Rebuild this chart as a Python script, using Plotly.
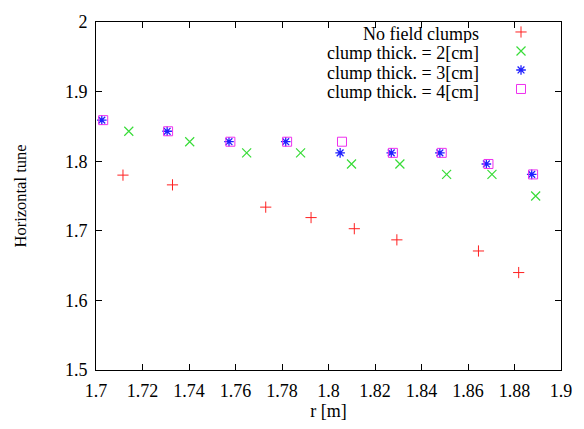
import plotly.graph_objects as go

# ---- data ----
r_none = [1.7116, 1.7329, 1.7730, 1.7925, 1.8111, 1.8294, 1.8645, 1.8818]
q_none = [1.780, 1.766, 1.734, 1.719, 1.703, 1.687, 1.671, 1.640]

r_2cm = [1.7141, 1.7403, 1.7648, 1.7880, 1.8099, 1.8307, 1.8508, 1.8703, 1.8891]
q_2cm = [1.843, 1.828, 1.812, 1.812, 1.796, 1.796, 1.781, 1.781, 1.750]

r_3cm = [1.7025, 1.7306, 1.7572, 1.7816, 1.8050, 1.8270, 1.8479, 1.8679, 1.8874]
q_3cm = [1.859, 1.843, 1.828, 1.828, 1.812, 1.812, 1.812, 1.796, 1.781]

r_4cm = [1.7031, 1.7310, 1.7578, 1.7822, 1.8058, 1.8277, 1.8487, 1.8688, 1.8880]
q_4cm = [1.859, 1.843, 1.828, 1.828, 1.828, 1.812, 1.812, 1.796, 1.781]

labels = ["No field clumps", "clump thick. = 2[cm]",
          "clump thick. = 3[cm]", "clump thick. = 4[cm]"]

x_ticks = [1.7, 1.72, 1.74, 1.76, 1.78, 1.8, 1.82, 1.84, 1.86, 1.88, 1.9]
x_ticktext = ["1.7", "1.72", "1.74", "1.76", "1.78", "1.8", "1.82", "1.84", "1.86", "1.88", "1.9"]
y_ticks = [1.5, 1.6, 1.7, 1.8, 1.9, 2.0]
y_ticktext = ["1.5", "1.6", "1.7", "1.8", "1.9", "2"]

FONT = "Liberation Serif"

fig = go.Figure()
fig.add_trace(go.Scatter(x=r_none, y=q_none, mode="markers", name=labels[0],
                         marker=dict(symbol="cross-thin", size=8, color="#ff2020",
                                     line=dict(width=1, color="#ff2020"))))
fig.add_trace(go.Scatter(x=r_2cm, y=q_2cm, mode="markers", name=labels[1],
                         marker=dict(symbol="x-thin", size=9, color="#38dc38",
                                     line=dict(width=1.2, color="#38dc38"))))
fig.add_trace(go.Scatter(x=r_3cm, y=q_3cm, mode="markers", name=labels[2],
                         marker=dict(symbol="asterisk-open", size=8, color="#2020ff",
                                     line=dict(width=1.3, color="#2020ff"))))
fig.add_trace(go.Scatter(x=r_4cm, y=q_4cm, mode="markers", name=labels[3],
                         marker=dict(symbol="square-open", size=9, color="#ee30ee",
                                     line=dict(width=1, color="#ee30ee"))))

axis_common = dict(showline=True, linecolor="black", linewidth=1, mirror="ticks",
                   ticks="inside", ticklen=6, tickcolor="black", showgrid=False,
                   zeroline=False, ticklabelstandoff=4,
                   tickfont=dict(family=FONT, size=18, color="black"))

fig.update_xaxes(range=[1.7, 1.9], tickvals=x_ticks, ticktext=x_ticktext,
                 title=dict(text="r [m]", font=dict(family=FONT, size=18, color="black"),
                            standoff=4),
                 **axis_common)
fig.update_yaxes(range=[1.5, 2.0], tickvals=y_ticks, ticktext=y_ticktext,
                 title=dict(text="Horizontal tune", font=dict(family=FONT, size=16.5, color="black"),
                            standoff=34),
                 **axis_common)

# legend text drawn as right-aligned labels, legend keys to their right
label_y = [0.966, 0.911, 0.856, 0.801]
for lab, yy in zip(labels, label_y):
    fig.add_annotation(x=0.825, y=yy, xref="paper", yref="paper", text=lab,
                       showarrow=False, xanchor="right", yanchor="middle",
                       height=19, valign="middle", borderpad=0,
                       font=dict(family=FONT, size=18, color="black"))

fig.update_layout(
    width=584, height=429,
    margin=dict(l=96, r=16, t=17, b=57),
    paper_bgcolor="white", plot_bgcolor="white",
    font=dict(family=FONT, size=18, color="black"),
    showlegend=True,
    legend=dict(x=0.871, y=1.013, xanchor="left", yanchor="top",
                bgcolor="rgba(0,0,0,0)", borderwidth=0, tracegroupgap=0,
                font=dict(size=1, color="rgba(0,0,0,0)")),
)

fig.write_html("out.html", config={"displayModeBar": False},
               post_script="document.body.style.margin='0';")
